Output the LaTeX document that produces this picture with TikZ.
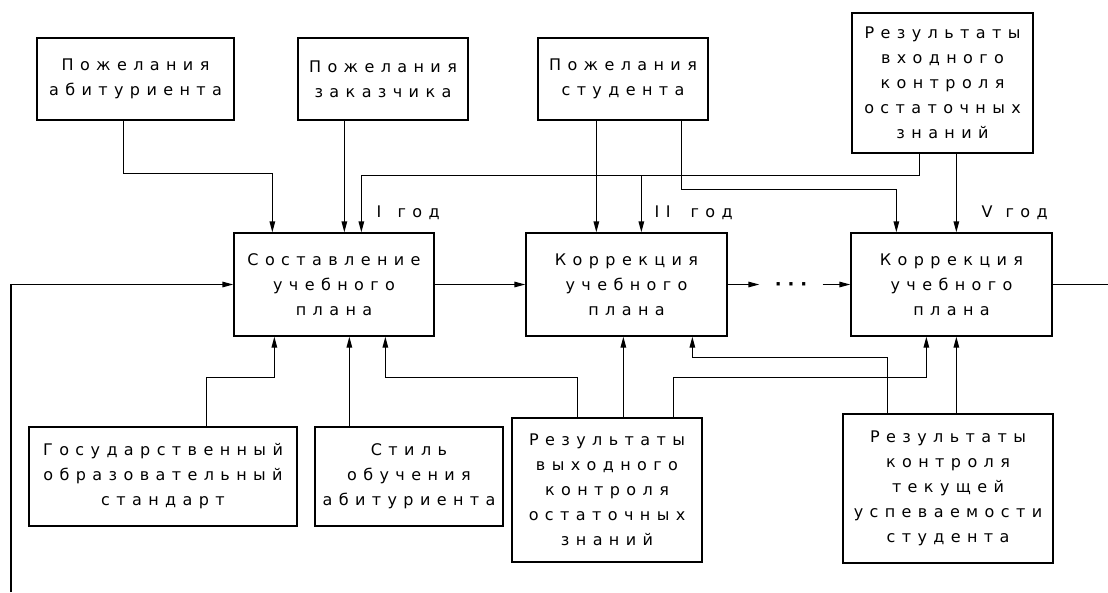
\documentclass[tikz,border=0pt]{standalone}
\usepackage{fontspec}
\setmainfont{DejaVu Sans}[LetterSpace=40]
\usetikzlibrary{arrows.meta,calc}
\begin{document}
\begin{tikzpicture}[x=1pt,y=-1pt, line width=1.3pt,
  box/.style={draw, line width=1.3pt, align=center, inner sep=0pt, font=\fontsize{16}{25}\selectfont},
  lbl/.style={anchor=west, inner sep=0pt, font=\fontsize{16}{25}\selectfont},
  arr/.style={line width=1.3pt, -{Triangle[length=11pt,width=5.5pt]}}]
\useasboundingbox (0,0) rectangle (1108,592);
% top boxes
\node[box, minimum width=197pt, minimum height=82pt] (A) at (135.5,79) {Пожелания\\абитуриента};
\node[box, minimum width=170pt, minimum height=82pt] (B) at (383,79) {Пожелания\\заказчика};
\node[box, minimum width=170pt, minimum height=82pt] (C) at (623,79) {Пожелания\\студента};
\node[box, minimum width=181pt, minimum height=140pt] (D) at (942.5,83) {Результаты\\входного\\контроля\\остаточных\\знаний};
% middle boxes
\node[box, minimum width=200pt, minimum height=103pt] (S) at (334,284.5) {Составление\\учебного\\плана};
\node[box, minimum width=201pt, minimum height=103pt] (K1) at (626.5,284.5) {Коррекция\\учебного\\плана};
\node[box, minimum width=201pt, minimum height=103pt] (K5) at (951.5,284.5) {Коррекция\\учебного\\плана};
% bottom boxes
\node[box, minimum width=268pt, minimum height=99pt] (G) at (163,476.5) {Государственный\\образовательный\\стандарт};
\node[box, minimum width=188pt, minimum height=99pt] (St) at (409,476.5) {Стиль\\обучения\\абитуриента};
\node[box, minimum width=190pt, minimum height=144pt] (V) at (607,490) {Результаты\\выходного\\контроля\\остаточных\\знаний};
\node[box, minimum width=210pt, minimum height=149pt] (T) at (948,488.5) {Результаты\\контроля\\текущей\\успеваемости\\студента};
% labels
\node[lbl] (l1) at (376,213) {\makebox[21pt][l]{I}год};
\node[lbl] (l2) at (654,213) {\makebox[36pt][l]{II}год};
\node[lbl] (l5) at (981,213) {\makebox[24pt][l]{V}год};
% dots
\node[inner sep=0pt, minimum width=62pt, font=\fontsize{18}{18}\selectfont\bfseries] (dots) at (791,287) {·\hspace{6pt}·\hspace{6pt}·};
% top connectors
\draw[arr] ($(A.south west)+(87,0)$) -- ++(0,53) -| ($(S.north west)+(39,0)$);
\draw[arr] ($(B.south west)+(47,0)$) -- ($(S.north west)+(111,0)$);
\coordinate (d1) at ($(D.south west)+(68,22)$);
\coordinate (k1a) at ($(K1.north west)+(116,0)$);
\draw[arr] ($(D.south west)+(68,0)$) -- (d1) -| ($(S.north west)+(128,0)$);
\draw[arr] (d1 -| k1a) -- (k1a);
\draw[arr] ($(C.south west)+(59,0)$) -- ($(K1.north west)+(71,0)$);
\draw[arr] ($(C.south west)+(144,0)$) -- ++(0,69) -| ($(K5.north west)+(46,0)$);
\coordinate (d2) at ($(D.south west)+(105,0)$);
\draw[arr] (d2) -- (d2 |- K5.north);
% horizontal flow
\draw[arr] (S.east) -- (K1.west);
\draw[arr] (K1.east) -- (K1.east -| dots.west);
\draw[arr] (K5.west -| dots.east) -- (K5.west);
\coordinate (outR) at (1108,284.5);
\draw (K5.east) -- (outR);
\coordinate (fb) at (11,592);
\draw[arr] (fb) |- (S.west);
% bottom connectors
\draw[arr] ($(G.north west)+(178,0)$) -- ++(0,-49) -| ($(S.south west)+(41,0)$);
\draw[arr] ($(St.north west)+(35,0)$) -- ($(S.south west)+(116,0)$);
\draw[arr] ($(V.north west)+(66,0)$) -- ++(0,-40) -| ($(S.south west)+(152,0)$);
\draw[arr] ($(V.north west)+(112,0)$) -- ($(K1.south west)+(98,0)$);
\draw[arr] ($(V.north west)+(162,0)$) -- ++(0,-40) -| ($(K5.south west)+(76,0)$);
\draw[arr] ($(T.north west)+(45,0)$) -- ++(0,-56) -| ($(K1.south west)+(167,0)$);
\draw[arr] ($(T.north west)+(114,0)$) -- ($(K5.south west)+(106,0)$);
\end{tikzpicture}
\end{document}
